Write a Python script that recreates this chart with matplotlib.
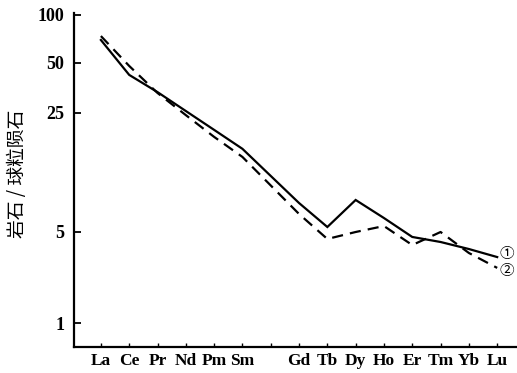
import numpy as np
import matplotlib
matplotlib.use("Agg")
import matplotlib.pyplot as plt
from matplotlib.ticker import NullLocator, FixedLocator

# REE elements (Eu position kept as an unlabeled tick, no data)
elements = ['La', 'Ce', 'Pr', 'Nd', 'Pm', 'Sm', 'Eu', 'Gd', 'Tb', 'Dy', 'Ho', 'Er', 'Tm', 'Yb', 'Lu']
tick_labels = ['La', 'Ce', 'Pr', 'Nd', 'Pm', 'Sm', '', 'Gd', 'Tb', 'Dy', 'Ho', 'Er', 'Tm', 'Yb', 'Lu']

# rock / chondrite ratios
series1 = [69.7, 42.4, 33.4, 25.7, 19.9, 15.4, np.nan, 7.40, 5.35, 7.71, 6.04, 4.58, 4.19, 3.70, 3.21]
series2 = [73.8, 48.0, 33.0, 24.3, 18.1, 13.8, np.nan, 6.38, 4.42, 5.00, 5.42, 3.97, 5.00, 3.45, 2.65]
series_labels = ['①', '②']

y_ticks = [1, 5, 25, 50, 100]
y_label = '岩石 / 球粒陨石'

# hand-drawn log-like axis of the original figure
Lk = np.array([-1.0, 0.0, np.log10(5), np.log10(25), np.log10(50), 2.0, 3.0])
Uk = np.array([-130.0, 0.0, 91.0, 210.0, 260.0, 308.0, 467.5])

def fwd(v):
    v = np.asarray(v, dtype=float)
    return np.interp(np.log10(np.clip(v, 1e-6, None)), Lk, Uk)

def inv(u):
    return 10 ** np.interp(np.asarray(u, dtype=float), Uk, Lk)

W, H = 517, 373
fig = plt.figure(figsize=(W / 100, H / 100), dpi=100)
ax = fig.add_axes([74 / W, 1 - 347 / H, 1 - 74 / W, (347 - 13) / H])
ax.set_yscale('function', functions=(fwd, inv))

x = np.arange(len(elements))
for vals, ls, dashes in [(series1, '-', None), (series2, '--', (5, 3.2))]:
    v = np.array(vals, dtype=float)
    m = ~np.isnan(v)
    line, = ax.plot(x[m], v[m], color='black', lw=1.6, ls=ls, solid_joinstyle='miter')
    if dashes:
        line.set_dashes(dashes)

ax.set_xlim(-0.95, 14.7)
ax.set_ylim(inv(-24), inv(310))

ax.yaxis.set_major_locator(FixedLocator(y_ticks))
ax.yaxis.set_minor_locator(NullLocator())
ax.set_yticklabels([str(t) for t in y_ticks], fontfamily='Liberation Serif',
                   fontweight='bold', fontsize=13)
ax.set_xticks(x)
ax.set_xticklabels(tick_labels, fontfamily='Liberation Serif', fontweight='bold', fontsize=12.5)

ax.tick_params(axis='y', direction='in', length=5, width=1.3, pad=7)
ax.tick_params(axis='x', direction='in', length=3, width=1.0, pad=4)

for s in ['top', 'right']:
    ax.spines[s].set_visible(False)
for s in ['left', 'bottom']:
    ax.spines[s].set_linewidth(1.6)

ax.set_ylabel(y_label, fontfamily=['Noto Sans CJK SC', 'DejaVu Sans'], fontsize=13.5)
ax.yaxis.set_label_coords(-0.104, 0.518)

# series markers at line ends
ax.annotate(series_labels[0], xy=(14, series1[-1]), xytext=(2, 2), textcoords='offset points',
            va='center', ha='left', fontsize=10.5, family=['Noto Sans CJK SC', 'DejaVu Sans'],
            annotation_clip=False)
ax.annotate(series_labels[1], xy=(14, series2[-1]), xytext=(2, -2), textcoords='offset points',
            va='center', ha='left', fontsize=10.5, family=['Noto Sans CJK SC', 'DejaVu Sans'],
            annotation_clip=False)

fig.savefig('out.png', dpi=100)
